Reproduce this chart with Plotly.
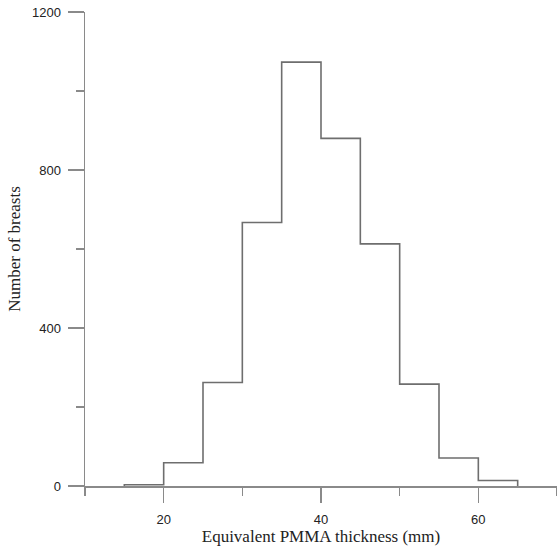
import plotly.graph_objects as go

bin_edges = [15, 20, 25, 30, 35, 40, 45, 50, 55, 60, 65]
counts = [3, 59, 262, 667, 1073, 880, 613, 258, 71, 14]
x_ticks = [20, 40, 60]
y_ticks = [0, 400, 800, 1200]

xs = [bin_edges[0]] + bin_edges
ys = [0] + counts + [0]

fig = go.Figure()
fig.add_trace(go.Scatter(
    x=xs, y=ys, mode="lines", line_shape="hv",
    line=dict(color="#6e6e6e", width=1.6), showlegend=False, hoverinfo="skip"))

axis_color = "#8a8a8a"
fig.update_layout(
    width=557, height=547,
    margin=dict(l=85, r=0, t=12, b=61),
    paper_bgcolor="white", plot_bgcolor="white",
    xaxis=dict(
        range=[10, 70], tickvals=x_ticks, showgrid=False, zeroline=False,
        showline=True, linecolor=axis_color, linewidth=1.5,
        ticks="outside", ticklen=15, tickwidth=1.5, tickcolor=axis_color,
        minor=dict(ticks="outside", ticklen=8, tickwidth=1.5, tickcolor=axis_color,
                   tickvals=[10, 30, 50, 70]),
        ticklabelstandoff=6, ticklabeloverflow="allow",
        tickfont=dict(family="Liberation Sans, Arial", size=13, color="#222"),
        title=dict(text="Equivalent PMMA thickness (mm)", standoff=0,
                   font=dict(family="Liberation Serif, Times New Roman", size=17, color="#222")),
        automargin=False,
    ),
    yaxis=dict(
        range=[0, 1200], tickvals=y_ticks, showgrid=False, zeroline=False,
        showline=True, linecolor=axis_color, linewidth=1.5,
        ticks="outside", ticklen=16, tickwidth=1.5, tickcolor=axis_color,
        minor=dict(ticks="outside", ticklen=8, tickwidth=1.5, tickcolor=axis_color,
                   tickvals=[200, 600, 1000]),
        ticklabelstandoff=4, ticklabeloverflow="allow",
        tickfont=dict(family="Liberation Sans, Arial", size=13, color="#222"),
        title=dict(text="Number of breasts", standoff=7,
                   font=dict(family="Liberation Serif, Times New Roman", size=17, color="#222")),
        automargin=False,
    ),
)

fig.write_html(
    "out.html",
    config={"displayModeBar": False, "staticPlot": True},
    post_script="document.body.style.margin='0';document.body.style.overflow='hidden';",
)
